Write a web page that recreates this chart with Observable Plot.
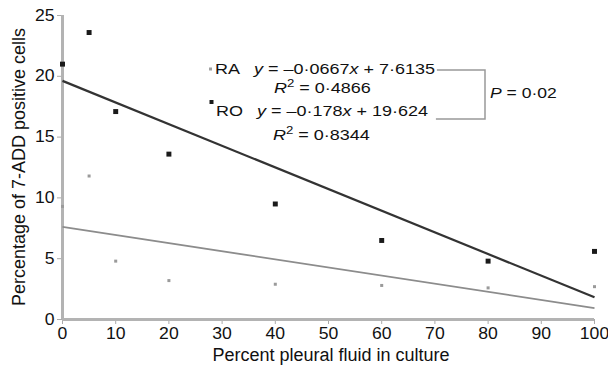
<!DOCTYPE html>
<html><head><meta charset="utf-8">
<script src="https://cdn.jsdelivr.net/npm/d3@7"></script>
<script src="https://cdn.jsdelivr.net/npm/@observablehq/plot@0.6"></script>
<style>body{margin:0;background:#fff}</style>
</head><body><div id="chart"></div>
<script>
const xs = [0, 5, 10, 20, 40, 60, 80, 100];
const roValues = [21.0, 23.6, 17.1, 13.6, 9.5, 6.5, 4.8, 5.6];
const raValues = [9.3, 11.8, 4.8, 3.2, 2.9, 2.8, 2.6, 2.7];
const fitNames = ["RA", "RO"];
const fitSlopes = [-0.0667, -0.178];
const fitIntercepts = [7.6135, 19.624];
const fitR2 = ["0·4866", "0·8344"];
const fitEqText = ["–0·0667", "–0·178"];
const fitIntText = ["7·6135", "19·624"];
const pText = "0·02";
const xTicks = [0, 10, 20, 30, 40, 50, 60, 70, 80, 90, 100];
const yTicks = [0, 5, 10, 15, 20, 25];
const xTitle = "Percent pleural fluid in culture";
const yTitle = "Percentage of 7-ADD positive cells";

const ro = xs.map((x, i) => ({x, y: roValues[i]}));
const ra = xs.map((x, i) => ({x, y: raValues[i]}));
const fits = fitNames.map((name, i) => ({name, m: fitSlopes[i], b: fitIntercepts[i],
  x1: xs[0], x2: xs[xs.length - 1]}));
const fitColor = {RA: "#8c8c8c", RO: "#333"};
const fitWidth = {RA: 1.8, RO: 2.2};
const FONT = "'Liberation Sans', Arial, Helvetica, sans-serif";

const plot = Plot.plot({
  width: 608, height: 369,
  marginLeft: 62, marginRight: 14, marginTop: 15, marginBottom: 50,
  style: {fontFamily: FONT, fontSize: "16px", color: "#111", background: "#fff"},
  x: {domain: [0, 100], label: null},
  y: {domain: [0, 25], label: null},
  marks: [
    Plot.axisX({ticks: xTicks, tickSize: 5, tickPadding: 3, stroke: "#aaa", fill: "#111", label: null, fontSize: 16}),
    Plot.axisY({ticks: yTicks, tickSize: 5, tickPadding: 3, stroke: "#aaa", fill: "#111", label: null, fontSize: 16}),
    Plot.ruleX([0], {stroke: "#b3b3b3", strokeWidth: 3}),
    Plot.ruleY([0], {stroke: "#b3b3b3", strokeWidth: 3}),
    Plot.link(fits, {x1: "x1", x2: "x2", y1: d => d.m * d.x1 + d.b, y2: d => d.m * d.x2 + d.b,
      stroke: d => fitColor[d.name], strokeWidth: d => fitWidth[d.name]}),
    Plot.dot(ra, {x: "x", y: "y", symbol: "square", r: 1.7, fill: "#9a9a9a", stroke: "none"}),
    Plot.dot(ro, {x: "x", y: "y", symbol: "square", r: 2.8, fill: "#1a1a1a", stroke: "none"})
  ]
});
document.getElementById("chart").appendChild(plot);

const svg = d3.select(plot);
// widen tick label glyphs slightly like the reference typeface
svg.selectAll('g[aria-label$="tick label"] text').each(function () {
  const t = this.getAttribute("transform") || "";
  this.setAttribute("transform", t + " scale(1.1,1)");
});

const g = svg.append("g").attr("font-family", FONT).attr("fill", "#111").attr("text-anchor", "start");
const X = plot.scale("x"), Y = plot.scale("y");
const yBottom = Y.apply(0), yTop = Y.apply(25);
const xMid = (X.apply(0) + X.apply(100)) / 2;

function txt(x, y, sx) {
  return g.append("text").attr("transform", `translate(${x},${y}) scale(${sx},1)`)
    .style("font-size", "15px");
}

// axis titles
g.append("text").attr("x", xMid + 3).attr("y", 361).attr("text-anchor", "middle").style("font-size", "18px").text(xTitle);
g.append("text").attr("transform", `translate(25,${(yTop + yBottom) / 2}) rotate(-90)`)
  .attr("text-anchor", "middle").style("font-size", "18px").text(yTitle);

// legend / equations
const rows = [{y: 74, ry: 93, mx: 210.5, my: 69, tx: 215, rx: 274, msize: 3, mcol: "#a0a0a0"},
              {y: 116, ry: 140, mx: 211.5, my: 102, tx: 216, rx: 273, msize: 4, mcol: "#1a1a1a"}];
const eqEnds = [];
fits.forEach((f, i) => {
  const r = rows[i];
  g.append("rect").attr("x", r.mx - r.msize / 2).attr("y", r.my - r.msize / 2)
    .attr("width", r.msize).attr("height", r.msize).attr("fill", r.mcol);
  const t = txt(r.tx, r.y, 1.2);
  t.append("tspan").text(f.name + "\u2002 ");
  t.append("tspan").attr("font-style", "italic").text("y");
  t.append("tspan").text(" = " + fitEqText[i]);
  t.append("tspan").attr("font-style", "italic").text("x");
  t.append("tspan").text(" + " + fitIntText[i]);
  eqEnds.push(r.tx + t.node().getBBox().width * 1.2);
  const t2 = txt(r.rx, r.ry, 1.2);
  t2.append("tspan").attr("font-style", "italic").text("R");
  t2.append("tspan").attr("dy", -6).style("font-size", "11px").text("2");
  t2.append("tspan").attr("dy", 6).text(" = " + fitR2[i]);
});
// bracket joining the two fits
const bx = 485;
g.append("path").attr("fill", "none").attr("stroke", "#999").attr("stroke-width", 1.5)
  .attr("d", `M${eqEnds[0] + 2},70 H${bx} V119 H${eqEnds[1] + 8}`);
const pt = txt(490, 98, 1.17);
pt.append("tspan").attr("font-style", "italic").text("P");
pt.append("tspan").text(" = " + pText);
</script></body></html>
